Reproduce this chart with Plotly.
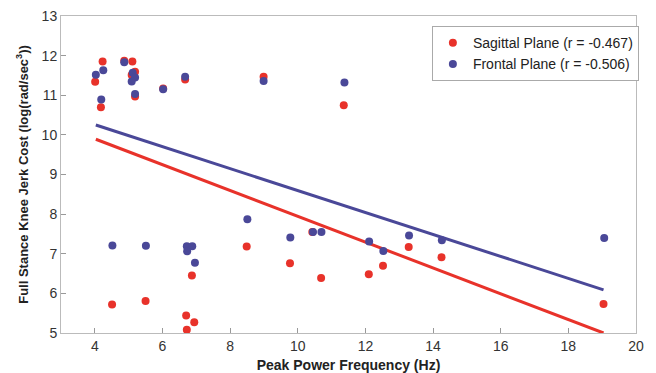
import plotly.graph_objects as go

# Sagittal plane (red)
sag_x = [4.01, 4.18, 4.23, 4.87, 5.11, 5.19, 5.09, 5.19, 6.02, 6.67, 8.99, 11.36,
         4.51, 5.50, 6.70, 6.94, 6.72, 6.87, 8.49, 9.77, 10.43, 10.69, 12.10, 12.52,
         13.28, 14.25, 19.04]
sag_y = [11.34, 10.70, 11.85, 11.87, 11.85, 11.59, 11.51, 10.97, 11.17, 11.40, 11.47, 10.75,
         5.72, 5.81, 5.44, 5.27, 5.08, 6.45, 7.18, 6.76, 7.55, 6.39, 6.48, 6.70,
         7.17, 6.91, 5.73]

# Frontal plane (blue)
fro_x = [4.03, 4.25, 4.19, 4.87, 5.12, 5.19, 5.09, 5.19, 6.02, 6.67, 8.99, 11.38,
         4.52, 5.51, 6.72, 6.88, 6.73, 6.96, 8.51, 9.78, 10.45, 10.70, 12.11, 12.53,
         13.29, 14.26, 19.06]
fro_y = [11.52, 11.63, 10.89, 11.83, 11.57, 11.45, 11.35, 11.03, 11.15, 11.47, 11.36, 11.32,
         7.21, 7.20, 7.19, 7.19, 7.06, 6.77, 7.87, 7.41, 7.55, 7.55, 7.31, 7.07,
         7.46, 7.34, 7.40]

# Regression line endpoints
fit_x = [4.03, 19.04]
sag_fit = [9.89, 5.00]
fro_fit = [10.25, 6.09]

x_ticks = [4, 6, 8, 10, 12, 14, 16, 18, 20]
y_ticks = [5, 6, 7, 8, 9, 10, 11, 12, 13]

RED = "#E8322A"
BLUE = "#4A4898"
FONT = "Liberation Sans, Arial, Helvetica, sans-serif"

fig = go.Figure()
fig.add_trace(go.Scatter(x=fit_x, y=sag_fit, mode="lines",
                         line=dict(color=RED, width=3), showlegend=False, hoverinfo="skip"))
fig.add_trace(go.Scatter(x=fit_x, y=fro_fit, mode="lines",
                         line=dict(color=BLUE, width=3), showlegend=False, hoverinfo="skip"))
fig.add_trace(go.Scatter(x=sag_x, y=sag_y, mode="markers", name="Sagittal Plane (r = -0.467)",
                         marker=dict(color=RED, size=8)))
fig.add_trace(go.Scatter(x=fro_x, y=fro_y, mode="markers", name="Frontal Plane (r = -0.506)",
                         marker=dict(color=BLUE, size=8)))

fig.update_layout(
    width=656, height=373,
    margin=dict(l=61, r=20, t=16, b=40),
    paper_bgcolor="white", plot_bgcolor="white",
    font=dict(family=FONT, size=14, color="#333333"),
    legend=dict(x=0.645, y=0.968, xanchor="left", yanchor="top",
                bordercolor="#AAAAAA", borderwidth=1, bgcolor="white",
                font=dict(size=14, color="#222222"), tracegroupgap=0),
    xaxis=dict(range=[3, 20], tickvals=x_ticks, ticks="inside", ticklen=5,
               tickcolor="#999999", showgrid=False, zeroline=False, automargin=False,
               showline=True, linecolor="#BBBBBB", linewidth=1, mirror=True,
               tickfont=dict(size=14, color="#333333"),
               title=dict(text="<b>Peak Power Frequency (Hz)</b>", standoff=8,
                          font=dict(size=14, color="#222222"))),
    yaxis=dict(range=[5, 13], tickvals=y_ticks, ticks="inside", ticklen=5,
               tickcolor="#999999", showgrid=False, zeroline=False, automargin=False,
               showline=True, linecolor="#BBBBBB", linewidth=1, mirror=True,
               tickfont=dict(size=14, color="#333333"),
               title=dict(text="<b>Full Stance Knee Jerk Cost (log(rad/sec<sup>3</sup>))</b>",
                          standoff=10, font=dict(size=13, color="#222222"))),
)

fig.write_html("out.html")
